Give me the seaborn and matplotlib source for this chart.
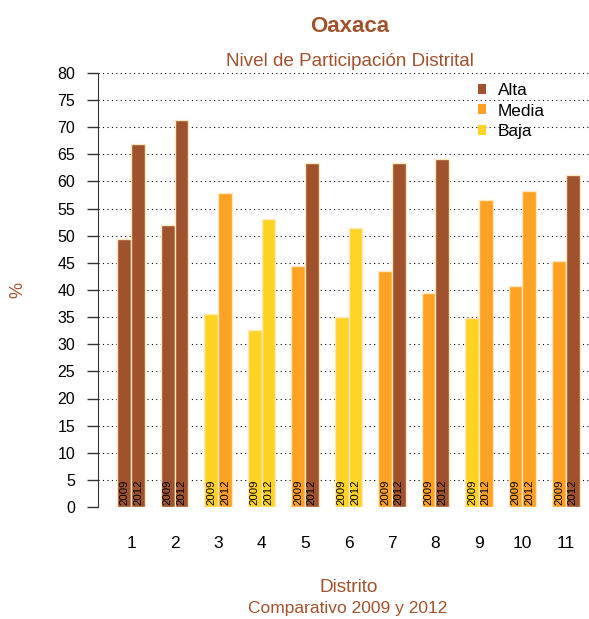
import matplotlib
matplotlib.use("Agg")
import matplotlib.pyplot as plt
import seaborn as sns
import pandas as pd
from matplotlib.patches import Patch

distritos = ["1", "2", "3", "4", "5", "6", "7", "8", "9", "10", "11"]
valores_2009 = [49.4, 52.0, 35.6, 32.6, 44.4, 35.0, 43.5, 39.4, 34.8, 40.7, 45.3]
valores_2012 = [66.9, 71.3, 57.9, 53.1, 63.4, 51.4, 63.4, 64.1, 56.6, 58.2, 61.2]
nivel_2009 = ["Alta", "Alta", "Baja", "Baja", "Media", "Baja", "Media", "Media", "Baja", "Media", "Media"]
nivel_2012 = ["Alta", "Alta", "Media", "Baja", "Alta", "Baja", "Alta", "Alta", "Media", "Media", "Alta"]
anios = ["2009", "2012"]
niveles = ["Alta", "Media", "Baja"]
colores = {"Alta": "#A0522D", "Media": "#FFA122", "Baja": "#FFD324"}
borde = "#FFE8C0"
titulo_color = "#A0522D"
FAM = "Liberation Sans"

df = pd.DataFrame({
    "Distrito": distritos * 2,
    "Valor": valores_2009 + valores_2012,
    "Anio": ["2009"] * len(distritos) + ["2012"] * len(distritos),
})

fig = plt.figure(figsize=(5.89, 6.19), dpi=100)
ax = fig.add_axes([98 / 589, 1 - 507 / 619, 1 - 98 / 589, (507 - 73) / 619])

for v in range(0, 81, 5):
    ax.axhline(v, color="black", linestyle=(0, (1, 3)), linewidth=0.8, zorder=0)

sns.barplot(data=df, x="Distrito", y="Valor", hue="Anio", order=distritos,
            hue_order=anios, dodge=True, width=0.63, ax=ax, legend=False,
            errorbar=None, zorder=2)

niveles_por_anio = [nivel_2009, nivel_2012]
for cont, niv, anio in zip(ax.containers, niveles_por_anio, anios):
    for bar, n in zip(cont, niv):
        bar.set_facecolor(colores[n])
        bar.set_edgecolor(borde)
        bar.set_linewidth(1.0)
        cx = bar.get_x() + bar.get_width() / 2
        ax.text(cx, 0.4, anio, rotation=90, ha="center", va="bottom",
                fontsize=8.2, color="black", family=FAM, zorder=3)

ax.set_xlim(-0.76, 10.53)
ax.set_ylim(0, 80)
ax.set_yticks(range(0, 81, 5))
ax.set_yticklabels([str(v) for v in range(0, 81, 5)], fontsize=11.5, family=FAM)
ax.tick_params(axis="y", length=8, width=1, pad=8.5, color="#333333")
ax.tick_params(axis="x", length=0, pad=21, labelsize=12.5)
for lab in ax.get_xticklabels():
    lab.set_family(FAM)
for s in ["top", "right", "bottom"]:
    ax.spines[s].set_visible(False)
ax.spines["left"].set_color("#333333")
ax.set_xlabel("")
ax.set_ylabel("")

fig.text(18 / 589, 1 - 290 / 619, "%", rotation=90, ha="center", va="center",
         fontsize=13, color=titulo_color, family=FAM)
fig.text(350 / 589, 1 - 27 / 619, "Oaxaca", ha="center", va="center",
         fontsize=16, fontweight="bold", color=titulo_color, family=FAM)
fig.text(350 / 589, 1 - 62 / 619, "Nivel de Participación Distrital", ha="center", va="center",
         fontsize=13.6, color=titulo_color, family=FAM)
fig.text(349 / 589, 1 - 587 / 619, "Distrito", ha="center", va="center",
         fontsize=13.7, color=titulo_color, family=FAM)
fig.text(348 / 589, 1 - 609 / 619, "Comparativo 2009 y 2012", ha="center", va="center",
         fontsize=12.5, color=titulo_color, family=FAM)

handles = [Patch(facecolor=colores[n], edgecolor="none", label=n) for n in niveles]
leg = ax.legend(handles=handles, loc="upper left",
                bbox_to_anchor=((477.5 - 98) / 491, (507 - 83) / 434),
                frameon=False, handlelength=0.52, handleheight=0.52,
                handletextpad=0.67, labelspacing=0.32, borderaxespad=0, borderpad=0,
                prop={"family": FAM, "size": 12.4})

fig.savefig("out.png", dpi=100)
